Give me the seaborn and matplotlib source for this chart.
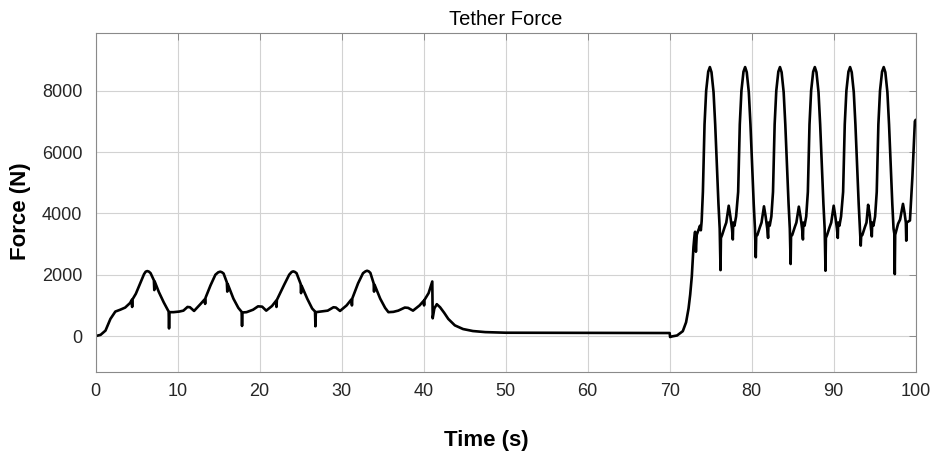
import matplotlib
matplotlib.use("Agg")
import matplotlib.pyplot as plt
import numpy as np
import pandas as pd
import seaborn as sns

# Start-up and low-power pumping phase (0-48 s)
t_low = [0.0, 0.6, 1.2, 1.8, 2.4, 3.0, 3.6, 4.2, 4.4, 4.45, 4.5, 4.9, 5.5, 5.9, 6.1, 6.3, 6.5,
         6.7, 7.1, 7.15, 7.2, 7.7, 8.3, 8.9, 8.95, 9.0, 9.5, 10.2, 10.7, 11.2, 11.5, 12.0,
         12.8, 13.3, 13.35, 13.4, 14.0, 14.6, 14.95, 15.2, 15.4, 15.6, 16.0, 16.05, 16.1,
         16.8, 17.4, 17.8, 17.85, 17.9, 18.4, 19.2, 19.8, 20.3, 20.8, 21.5, 22.0, 22.05,
         22.1, 23.0, 23.6, 23.9, 24.1, 24.3, 24.5, 25.0, 25.05, 25.1, 25.8, 26.4, 26.75,
         26.8, 26.85, 27.4, 28.3, 29.0, 29.3, 29.8, 30.6, 31.2, 31.25, 31.3, 32.0, 32.6,
         32.9, 33.1, 33.3, 33.5, 33.9, 33.95, 34.0, 34.7, 35.3, 35.7, 36.3, 36.9, 37.7,
         38.1, 38.7, 39.5, 40.0, 40.05, 40.1, 40.6, 41.05, 41.1, 41.3, 41.6, 42.0, 42.5,
         43.0, 43.8, 44.8, 46.0, 47.5]
f_low = [0, 40, 180, 560, 800, 860, 930, 1080, 1180, 950, 1200, 1380, 1760, 2020, 2100, 2120, 2100,
         2050, 1820, 1500, 1780, 1440, 1100, 800, 250, 780, 780, 800, 830, 950, 940, 820,
         1050, 1200, 1050, 1250, 1650, 2000, 2080, 2100, 2080, 2040, 1750, 1450, 1700,
         1220, 920, 790, 330, 770, 780, 860, 970, 960, 830, 980, 1150, 950,
         1180, 1680, 2000, 2090, 2110, 2090, 2050, 1700, 1400, 1650, 1220, 900, 800,
         320, 780, 800, 830, 940, 930, 820, 1000, 1200, 1000, 1230, 1720, 2050,
         2110, 2130, 2110, 2060, 1720, 1450, 1680, 1220, 920, 780, 790, 830, 930,
         920, 830, 1000, 1150, 1000, 1180, 1400, 1780, 580, 900, 1040, 940, 760,
         560, 350, 230, 165, 130]

# Idle hold (48-70 s)
t_idle = [50.0, 60.0, 70.0]
f_idle = [110, 105, 100]

# Ramp-up into the high-power pumping phase (70-74.9 s)
t_ramp = [70.05, 70.3, 70.9, 71.6, 72.0, 72.3, 72.5, 72.7, 72.9, 73.0, 73.1, 73.2,
          73.3, 73.5, 73.7, 73.8, 73.9, 74.05, 74.25, 74.45, 74.7]
f_ramp = [-30, -10, 20, 160, 450, 900, 1350, 1950, 2900, 3200, 3400, 2750,
          3300, 3450, 3600, 3450, 3750, 4700, 6900, 8000, 8620]

# High-power pumping phase (74.9-100 s)
t_high = [74.9, 75.1, 75.35, 75.55, 75.75, 75.95, 76.1, 76.2, 76.25, 76.4, 76.7, 76.9, 77.2,
          77.4, 77.6, 77.7, 77.75, 77.9, 78.1, 78.35, 78.55, 78.75, 79.0,
          79.2, 79.4, 79.65, 79.85, 80.05, 80.25, 80.4, 80.5, 80.55, 80.7, 81.0, 81.2, 81.5,
          81.7, 81.9, 82.0, 82.05, 82.2, 82.4, 82.6, 82.8, 83.0, 83.25,
          83.45, 83.65, 83.9, 84.1, 84.3, 84.5, 84.65, 84.75, 84.8, 84.95, 85.25, 85.45,
          85.75, 85.95, 86.15, 86.25, 86.3, 86.45, 86.65, 86.85, 87.05, 87.25, 87.5,
          87.7, 87.9, 88.15, 88.35, 88.55, 88.75, 88.9, 89.0, 89.05, 89.2, 89.5, 89.7, 90.0,
          90.2, 90.4, 90.5, 90.55, 90.7, 90.9, 91.15, 91.35, 91.55, 91.8,
          92.0, 92.2, 92.45, 92.65, 92.85, 93.05, 93.2, 93.3, 93.35, 93.5, 93.8, 94.0, 94.2,
          94.4, 94.55, 94.65, 94.7, 94.85, 95.05, 95.25, 95.45, 95.65, 95.9,
          96.1, 96.3, 96.55, 96.75, 96.95, 97.15, 97.3, 97.4, 97.45, 97.5, 97.85, 98.1,
          98.45, 98.65, 98.8, 98.85, 98.9, 99.3, 99.6, 99.9, 100.0]
f_high = [8770, 8600, 7950, 6900, 5600, 4300, 3500, 2150, 3200, 3300, 3550, 3700, 4250,
          3900, 3500, 3150, 3700, 3600, 3900, 4700, 6900, 8000, 8620,
          8770, 8600, 7950, 6900, 5600, 4300, 3500, 2570, 3250, 3300, 3550, 3700, 4230,
          3900, 3500, 3200, 3700, 3600, 3900, 4700, 6900, 8000, 8620,
          8770, 8600, 7950, 6900, 5600, 4300, 3500, 2350, 3250, 3300, 3550, 3700,
          4220, 3900, 3500, 3150, 3700, 3600, 3900, 4700, 6900, 8000, 8620,
          8770, 8600, 7950, 6900, 5600, 4300, 3500, 2130, 3200, 3300, 3550, 3700, 4250,
          3900, 3500, 3200, 3700, 3600, 3900, 4700, 6900, 8000, 8620,
          8770, 8600, 7950, 6900, 5600, 4300, 3500, 2950, 3250, 3300, 3550, 3700, 4280,
          3950, 3500, 3250, 3700, 3600, 3900, 4700, 6900, 8000, 8620,
          8770, 8600, 7950, 6900, 5600, 4300, 3500, 3330, 2020, 3300, 3660, 3800,
          4310, 4000, 3700, 3110, 3700, 3770, 5200, 7000, 7050]

x_ticks = [0, 10, 20, 30, 40, 50, 60, 70, 80, 90, 100]
y_ticks = [0, 2000, 4000, 6000, 8000]

df = pd.DataFrame({
    "Time": t_low + t_idle + t_ramp + t_high,
    "Force": f_low + f_idle + f_ramp + f_high,
})

sns.set_theme(style="white")
plt.rcParams["font.family"] = ["Liberation Sans", "DejaVu Sans"]

fig = plt.figure(figsize=(9.36, 4.57), dpi=100)
ax = fig.add_axes([0.1022, 0.1867, 0.8761, 0.7404])

sns.lineplot(data=df, x="Time", y="Force", ax=ax, color="black", linewidth=1.9,
             estimator=None, sort=False)

ax.set_xlim(0, 100)
ax.set_ylim(-1160, 9870)
ax.set_xticks(x_ticks)
ax.set_yticks(y_ticks)
ax.set_xticklabels([str(v) for v in x_ticks])
ax.set_yticklabels([str(v) for v in y_ticks])

ax.grid(True, color="#d2d2d2", linewidth=0.8)
ax.set_axisbelow(True)
for s in ax.spines.values():
    s.set_color("#8a8a8a")
    s.set_linewidth(0.8)
ax.tick_params(direction="in", length=5, width=0.7, color="#8a8a8a",
               top=True, right=True, labelsize=13, labelcolor="#262626")
ax.tick_params(axis="y", pad=9.5)
ax.tick_params(axis="x", pad=8)

ax.set_title("Tether Force", fontsize=14.5, color="black", pad=6)
ax.set_xlabel("Time (s)", fontsize=16, fontweight="bold", color="black")
ax.set_ylabel("Force (N)", fontsize=16, fontweight="bold", color="black")
ax.xaxis.set_label_coords(0.476, -0.172)
ax.yaxis.set_label_coords(-0.079, 0.475)

fig.savefig("out.png", dpi=100)
